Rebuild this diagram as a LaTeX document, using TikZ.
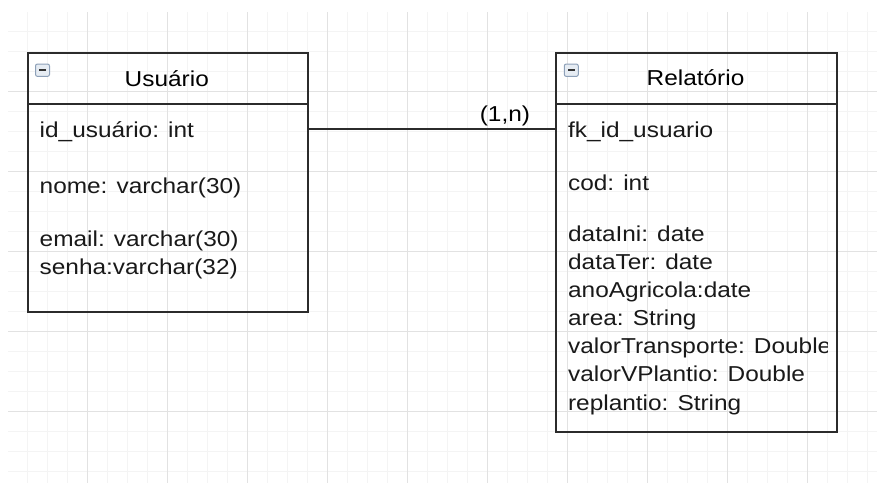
\documentclass[tikz,border=0pt]{standalone}
\usepackage{fontspec}
\setmainfont[FakeStretch=1.13]{Liberation Sans}
\usetikzlibrary{positioning}

\definecolor{gridminor}{HTML}{F4F4F4}
\definecolor{gridmajor}{HTML}{E2E2E2}
\definecolor{boxline}{HTML}{2B2B2B}
\definecolor{togglerim}{HTML}{8DA0B8}
\definecolor{togglefill}{HTML}{E6ECF3}

\tikzset{
    classbox/.style={draw=boxline, line width=0.9pt, minimum width=140.2pt, anchor=north west, inner sep=0pt},
    classhead/.style={classbox, minimum height=25.6pt},
    classtitle/.style={anchor=base, inner sep=0pt, font=\fontsize{10.8}{13}\selectfont},
    attrtext/.style={anchor=base west, inner sep=0pt, font=\fontsize{10.8}{13}\selectfont, text=black!90},
    collapsebox/.style={draw=togglerim, fill=togglefill, rounded corners=1pt, line width=0.5pt,
        minimum width=7pt, minimum height=6.2pt, inner sep=0pt, anchor=north west},
    minusbar/.style={line width=1pt, draw=black!80},
    connector/.style={draw=boxline, line width=0.9pt},
}

\begin{document}
\begin{tikzpicture}[x=0.5pt, y=-0.5pt]
    \useasboundingbox (0,0) rectangle (877,483);

    % Grid:
    % light lines every 20px, darker ones every 80px
    \begin{scope}[line width=0.5pt]
        \clip (8,12) rectangle (877,483);
        \foreach \x in {7.5,27.5,...,867.5}
            \draw [gridminor] (\x,12) -- (\x,483);
        \foreach \y in {11,31,...,471}
            \draw [gridminor] (8,\y) -- (877,\y);
        \foreach \x in {7.5,87.5,...,807.5}
            \draw [gridmajor] (\x,12) -- (\x,483);
        \foreach \y in {11,91,...,411}
            \draw [gridmajor] (8,\y) -- (877,\y);
    \end{scope}

    % Class Usuario:
    \node [classbox, minimum height=129.65pt] (usuario) at (26.7,51.7) {};
    \node [classhead] (usuario-head) at (usuario.north west) {};
    \node [collapsebox] (usuario-toggle) at (35,63.5) {};
    \draw [minusbar] ([xshift=-1.6pt]usuario-toggle.center) -- ([xshift=1.6pt]usuario-toggle.center);
    \node [classtitle] (usuario-title) at (166.8,86) {Usuário};
    \node [attrtext] (id-usuario) at (39.3,137.5) {id\_usuário: int};
    \node [attrtext] (nome) at (39.3,193) {nome: varchar(30)};
    \node [attrtext] (email) at (39.3,246) {email: varchar(30)};
    \node [attrtext] (senha) at (39.3,274) {senha:varchar(32)};

    % Class Relatorio:
    \node [classbox, minimum height=189.5pt] (relatorio) at (555.3,51.7) {};
    \node [classhead] (relatorio-head) at (relatorio.north west) {};
    \node [collapsebox] (relatorio-toggle) at (563.8,63.5) {};
    \draw [minusbar] ([xshift=-1.6pt]relatorio-toggle.center) -- ([xshift=1.6pt]relatorio-toggle.center);
    \node [classtitle] (relatorio-title) at (695.5,85.5) {Relatório};
    \begin{scope}
        % the long line is cut before the border
        \clip (555.3,102.7) rectangle (827,430.7);
        \node [attrtext] (fk-id) at (567.7,137) {fk\_id\_usuario};
        \node [attrtext] (cod) at (567.7,190) {cod: int};
        \foreach \txt [count=\i] in {dataIni: date, dataTer: date, anoAgricola:date, area: String,
            valorTransporte: Double, valorVPlantio: Double, replantio: String}
            \node [attrtext] (rel-\i) at (567.7,{241.7+28.05*(\i-1)}) {\txt};
    \end{scope}

    % Relationship:
    \coordinate (link) at (0,129.3);
    \draw [connector] (usuario.east |- link) -- (relatorio.west |- link)
        node [pos=1, anchor=base east, xshift=-12.2pt, yshift=3.9pt, inner sep=0pt,
              font=\fontsize{10.8}{13}\selectfont] (card) {(1,n)};
\end{tikzpicture}
\end{document}
